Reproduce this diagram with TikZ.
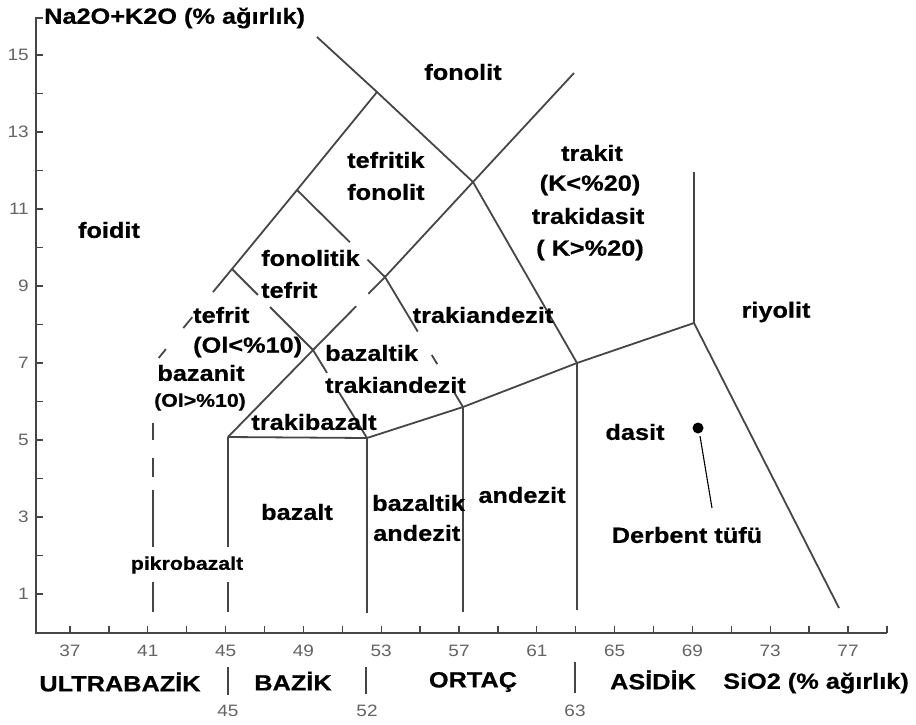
\documentclass[tikz,border=0pt]{standalone}
\usepackage{fontspec}
\setmainfont{Liberation Sans}[FakeStretch=1.15,BoldFeatures={FakeBold=0.6}]
\usetikzlibrary{calc}
\definecolor{lc}{RGB}{70,70,70}
\definecolor{tc}{RGB}{100,100,100}
\begin{document}
\begin{tikzpicture}[x=1pt,y=-1pt,
  bd/.style={draw=lc,line width=1.8pt},
  ax/.style={draw=lc,line width=1.8pt},
  lab/.style={font=\fontsize{22}{26}\selectfont\bfseries,inner sep=0pt},
  labs/.style={font=\fontsize{18.5}{22}\selectfont\bfseries,inner sep=0pt},
  tick/.style={font=\fontsize{16.5}{18}\selectfont,text=tc,inner sep=0pt}]
\useasboundingbox[fill=white] (0,0) rectangle (916,724);

% key points
\coordinate (ptop) at (317,37);
\coordinate (p14) at (377,92);
\coordinate (p117) at (473,182);
\coordinate (p7) at (577,363);
\coordinate (p115) at (297,190);
\coordinate (p94) at (232,269);
\coordinate (pd1) at (213,292);
\coordinate (p41s) at (157,360);
\coordinate (p5a) at (228,437);
\coordinate (p73) at (313,350);
\coordinate (p93) at (385,277);
\coordinate (pne) at (574,73);
\coordinate (p5b) at (367,438);
\coordinate (p59) at (463,407);
\coordinate (p8) at (694,323);
\coordinate (p69t) at (694,172);
\coordinate (p77) at (839,608);
\coordinate (b52) at (367,613);
\coordinate (b57) at (463,612);
\coordinate (b63) at (577,610);

% boundaries
\draw[bd] (ptop) -- (p14) -- (p117) -- (p7);
\draw[bd] (p14) -- (p115) -- (p94) -- (pd1);
\draw[bd] ($(pd1)!0.37!(p41s)$) -- ($(pd1)!0.53!(p41s)$);
\draw[bd] ($(pd1)!0.84!(p41s)$) -- ($(pd1)!0.97!(p41s)$);

\draw[bd] (p5a) -- (p73) -- ($(p73)!0.6!(p93)$);
\draw[bd] ($(p73)!0.77!(p93)$) -- (p93) -- (p117) -- (pne);

\draw[bd] (p94) -- ($(p94)!0.32!(p73)$);
\draw[bd] ($(p94)!0.47!(p73)$) -- (p73);

\draw[bd] (p73) -- ($(p73)!0.26!(p5b)$);
\draw[bd] ($(p73)!0.48!(p5b)$) -- (p5b);

\draw[bd] (p115) -- ($(p115)!0.6!(p93)$);
\draw[bd] ($(p115)!0.8!(p93)$) -- (p93) -- ($(p93)!0.42!(p59)$);
\draw[bd] ($(p93)!0.6!(p59)$) -- ($(p93)!0.67!(p59)$);
\draw[bd] ($(p93)!0.89!(p59)$) -- (p59);

\draw[bd] (p5a) -- (p5b) -- (p59) -- (p7) -- (p8);
\draw[bd] (p69t) -- (p8) -- (p77);
\draw[bd] (p5b) -- (b52);
\draw[bd] (p59) -- (b57);
\draw[bd] (p7) -- (b63);
\draw[bd] (p5a) -- (228,547);
\draw[bd] (228,582) -- (228,612);
\draw[bd] (153,423) -- (153,440);
\draw[bd] (153,458) -- (153,477);
\draw[bd] (153,490) -- (153,547);
\draw[bd] (153,582) -- (153,612);

% axes
\draw[ax] (43,18) -- (36,18) -- (36,633) -- (887,633);
\foreach \v in {1,...,15} \draw[ax,line width=1.3pt] (36,{632.5-38.5*\v}) -- ++(7,0);
\foreach \s in {37,39,...,79} \draw[ax,line width=1.3pt] ({70+(\s-37)*19.45},633) -- ++(0,-7);
\foreach \s in {37,41,...,77} \node[tick,name=xl\s] at ({70+(\s-37)*19.45},651) {\s};
\foreach \v in {1,3,...,15} \node[tick,anchor=east,name=yl\v] at (29,{632.5-38.5*\v}) {\v};

\node[lab,anchor=west] (ylab) at (44,18) {Na2O+K2O (\% ağırlık)};
\node[lab] (xlab) at (816,683) {SiO2 (\% ağırlık)};
\node[lab] (ub) at (120,682) {ULTRABAZİK};
\node[lab] (bz) at (293,681) {BAZİK};
\node[lab] (ort) at (473,682) {ORTAÇ};
\node[lab] (asd) at (653,680) {ASİDİK};
\draw[ax] (228,667) -- (228,695);
\draw[ax] (366,667) -- (366,694);
\draw[ax] (575,662) -- (575,693);
\node[tick] (n45) at (228,711) {45};
\node[tick] (n52) at (367,711) {52};
\node[tick] (n63) at (575,711) {63};

% field names
\node[lab] (fon) at (463,72) {fonolit};
\node[lab,anchor=west] (tf1) at (347,160) {tefritik};
\node[lab,anchor=west] (tf2) at (347,192) {fonolit};
\node[lab] (foi) at (109,230) {foidit};
\node[lab,anchor=west] (ft1) at (261,258) {fonolitik};
\node[lab,anchor=west] (ft2) at (261,290) {tefrit};
\node[lab,anchor=west] (te1) at (193,315) {tefrit};
\node[lab,anchor=west] (te2) at (193,347) {(Ol<\%10)};
\node[lab] (bn1) at (201,373) {bazanit};
\node[labs] (bn2) at (200,402) {(Ol>\%10)};
\node[lab] (tb) at (314,422) {trakibazalt};
\node[lab,anchor=west] (bt1) at (325,353) {bazaltik};
\node[lab,anchor=west] (bt2) at (325,385) {trakiandezit};
\node[lab] (ta) at (483,315) {trakiandezit};
\node[lab] (tr1) at (592,153) {trakit};
\node[lab] (tr2) at (590,185) {(K<\%20)};
\node[lab] (tr3) at (588,216) {trakidasit};
\node[lab] (tr4) at (590,250) {( K>\%20)};
\node[lab] (riy) at (776,312) {riyolit};
\node[lab] (das) at (635,432) {dasit};
\node[lab] (baz) at (297,512) {bazalt};
\node[lab,anchor=west] (ba1) at (372,503) {bazaltik};
\node[lab,anchor=west] (ba2) at (373,533) {andezit};
\node[lab] (and) at (522,495) {andezit};
\node[labs] (pik) at (187,565) {pikrobazalt};

% sample
\fill (698,428) circle (5.5) coordinate (dot);
\node[lab] (der) at (687,535) {Derbent tüfü};
\coordinate (lend) at (712,508);
\draw[line width=1.1pt] (700,436) -- (lend);
\end{tikzpicture}
\end{document}
